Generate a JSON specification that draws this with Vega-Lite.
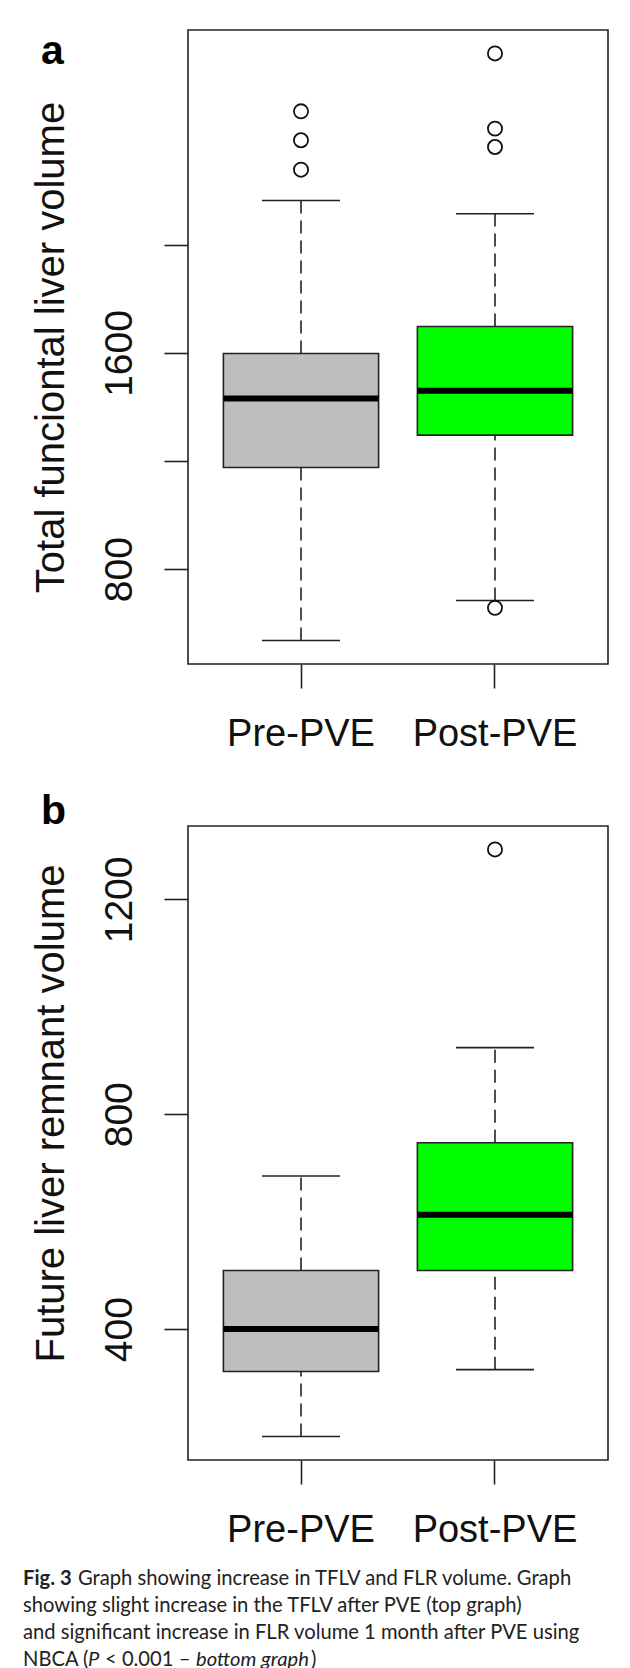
{
  "$schema": "https://vega.github.io/schema/vega-lite/v6.json",
  "background": "white",
  "padding": {"left": 23, "top": 29, "right": 0, "bottom": 0},
  "config": {
    "font": "Liberation Sans",
    "view": {"stroke": "#222", "strokeWidth": 1.6},
    "axis": {"grid": false, "domain": false, "tickSize": 24, "tickWidth": 1.6, "tickColor": "#222", "labelColor": "#111", "titleColor": "#111", "labelFont": "Liberation Sans", "titleFont": "Liberation Sans", "titleFontWeight": "normal"},
    "axisX": {"labelFontSize": 38, "labelAngle": 0, "labelPadding": 27},
    "axisY": {"labelFontSize": 39, "labelAngle": -90, "labelAlign": "center", "labelBaseline": "alphabetic", "labelPadding": 33, "titleFontSize": 40, "titlePadding": 29},
    "title": {"font": "Liberation Sans", "fontSize": 41, "fontWeight": "bold", "anchor": "start", "frame": "bounds", "color": "#000"}
  },
  "datasets": {
    "tflv": [
      {"group": "Pre-PVE", "lo": 536, "q1": 1176, "med": 1431, "q3": 1598, "hi": 2164},
      {"group": "Post-PVE", "lo": 684, "q1": 1296, "med": 1460, "q3": 1698, "hi": 2115}
    ],
    "tflv_out": [
      {"group": "Pre-PVE", "value": 2494},
      {"group": "Pre-PVE", "value": 2387},
      {"group": "Pre-PVE", "value": 2278},
      {"group": "Post-PVE", "value": 2708},
      {"group": "Post-PVE", "value": 2430},
      {"group": "Post-PVE", "value": 2362},
      {"group": "Post-PVE", "value": 657}
    ],
    "flr": [
      {"group": "Pre-PVE", "lo": 200, "q1": 321, "med": 400, "q3": 509, "hi": 685},
      {"group": "Post-PVE", "lo": 324.5, "q1": 509, "med": 613, "q3": 747, "hi": 924}
    ],
    "flr_out": [
      {"group": "Post-PVE", "value": 1293}
    ]
  },
  "concat": [
    {
      "concat": [
        {
          "width": 420,
          "height": 634,
          "title": {"text": "a", "offset": -75, "dx": 10, "baseline": "alphabetic"},
          "encoding": {
            "x": {"field": "group", "type": "nominal", "sort": ["Pre-PVE", "Post-PVE"], "scale": {"type": "band", "paddingInner": 0.2, "paddingOuter": 0.1825}, "axis": {"title": null}}
          },
          "layer": [
            {
              "data": {"name": "tflv"},
              "mark": {"type": "rule", "strokeDash": [13, 7], "strokeWidth": 1.6, "color": "#222"},
              "encoding": {
                "y": {"field": "lo", "type": "quantitative", "scale": {"domain": [449.1, 2794.9], "nice": false, "zero": false},
                      "axis": {"title": "Total funciontal liver volume", "values": [800, 1200, 1600, 2000], "format": "d", "labelExpr": "datum.value == 800 || datum.value == 1600 ? datum.label : ''"}},
                "y2": {"field": "q1"}
              }
            },
            {
              "data": {"name": "tflv"},
              "mark": {"type": "rule", "strokeDash": [13, 7], "strokeWidth": 1.6, "color": "#222"},
              "encoding": {"y": {"field": "q3", "type": "quantitative"}, "y2": {"field": "hi"}}
            },
            {
              "data": {"name": "tflv"},
              "mark": {"type": "bar", "stroke": "#222", "strokeWidth": 1.6, "opacity": 1},
              "encoding": {
                "y": {"field": "q1", "type": "quantitative"}, "y2": {"field": "q3"},
                "color": {"field": "group", "type": "nominal", "scale": {"domain": ["Pre-PVE", "Post-PVE"], "range": ["#bebebe", "#00ff00"]}, "legend": null}
              }
            },
            {
              "data": {"name": "tflv"},
              "mark": {"type": "tick", "thickness": 6, "size": 155, "color": "#000", "opacity": 1},
              "encoding": {"y": {"field": "med", "type": "quantitative"}}
            },
            {
              "data": {"name": "tflv"},
              "mark": {"type": "tick", "thickness": 1.6, "size": 78, "color": "#222", "opacity": 1},
              "encoding": {"y": {"field": "lo", "type": "quantitative"}}
            },
            {
              "data": {"name": "tflv"},
              "mark": {"type": "tick", "thickness": 1.6, "size": 78, "color": "#222", "opacity": 1},
              "encoding": {"y": {"field": "hi", "type": "quantitative"}}
            },
            {
              "data": {"name": "tflv_out"},
              "mark": {"type": "point", "shape": "circle", "filled": false, "size": 200, "strokeWidth": 1.8, "color": "#111", "opacity": 1},
              "encoding": {"y": {"field": "value", "type": "quantitative"}}
            }
          ]
        },
        {
          "width": 420,
          "height": 634,
          "title": {"text": "b", "offset": -39, "dx": 10, "baseline": "alphabetic"},
          "encoding": {
            "x": {"field": "group", "type": "nominal", "sort": ["Pre-PVE", "Post-PVE"], "scale": {"type": "band", "paddingInner": 0.2, "paddingOuter": 0.1825}, "axis": {"title": null}}
          },
          "layer": [
            {
              "data": {"name": "flr"},
              "mark": {"type": "rule", "strokeDash": [13, 7], "strokeWidth": 1.6, "color": "#222"},
              "encoding": {
                "y": {"field": "lo", "type": "quantitative", "scale": {"domain": [156.3, 1336.7], "nice": false, "zero": false},
                      "axis": {"title": "Future liver remnant volume", "values": [400, 800, 1200], "format": "d", "titleY": 287}},
                "y2": {"field": "q1"}
              }
            },
            {
              "data": {"name": "flr"},
              "mark": {"type": "rule", "strokeDash": [13, 7], "strokeWidth": 1.6, "color": "#222"},
              "encoding": {"y": {"field": "q3", "type": "quantitative"}, "y2": {"field": "hi"}}
            },
            {
              "data": {"name": "flr"},
              "mark": {"type": "bar", "stroke": "#222", "strokeWidth": 1.6, "opacity": 1},
              "encoding": {
                "y": {"field": "q1", "type": "quantitative"}, "y2": {"field": "q3"},
                "color": {"field": "group", "type": "nominal", "scale": {"domain": ["Pre-PVE", "Post-PVE"], "range": ["#bebebe", "#00ff00"]}, "legend": null}
              }
            },
            {
              "data": {"name": "flr"},
              "mark": {"type": "tick", "thickness": 6, "size": 155, "color": "#000", "opacity": 1},
              "encoding": {"y": {"field": "med", "type": "quantitative"}}
            },
            {
              "data": {"name": "flr"},
              "mark": {"type": "tick", "thickness": 1.6, "size": 78, "color": "#222", "opacity": 1},
              "encoding": {"y": {"field": "lo", "type": "quantitative"}}
            },
            {
              "data": {"name": "flr"},
              "mark": {"type": "tick", "thickness": 1.6, "size": 78, "color": "#222", "opacity": 1},
              "encoding": {"y": {"field": "hi", "type": "quantitative"}}
            },
            {
              "data": {"name": "flr_out"},
              "mark": {"type": "point", "shape": "circle", "filled": false, "size": 200, "strokeWidth": 1.8, "color": "#111", "opacity": 1},
              "encoding": {"y": {"field": "value", "type": "quantitative"}}
            }
          ]
        }
      ],
      "columns": 1,
      "align": "none",
      "spacing": 36
    },
    {
      "width": 420,
      "height": {"step": 26.9},
      "view": {"stroke": null},
      "encoding": {
        "y": {"field": "line", "type": "ordinal", "axis": null},
        "x": {"value": -165},
        "text": {"field": "text"}
      },
      "layer": [
        {"data": {"values": [{"line": 1, "text": "Fig. 3"}]},
         "mark": {"type": "text", "align": "left", "font": "Lato", "fontSize": 20.2, "fontWeight": "bold", "color": "#222"}},
        {"data": {"values": [{"line": 1, "text": "Graph showing increase in TFLV and FLR volume. Graph"}]},
         "mark": {"type": "text", "align": "left", "font": "Lato", "fontSize": 20.2, "color": "#222", "dx": 55}},
        {"data": {"values": [
          {"line": 2, "text": "showing slight increase in the TFLV after PVE (top graph)"},
          {"line": 3, "text": "and significant increase in FLR volume 1 month after PVE using"},
          {"line": 4, "text": "NBCA ("}]},
         "mark": {"type": "text", "align": "left", "font": "Lato", "fontSize": 20.2, "color": "#222"}},
        {"data": {"values": [{"line": 4, "text": "P"}]},
         "mark": {"type": "text", "align": "left", "font": "Lato", "fontSize": 20.2, "fontStyle": "italic", "color": "#222", "dx": 65}},
        {"data": {"values": [{"line": 4, "text": "< 0.001 –"}]},
         "mark": {"type": "text", "align": "left", "font": "Lato", "fontSize": 20.2, "color": "#222", "dx": 82}},
        {"data": {"values": [{"line": 4, "text": "bottom graph"}]},
         "mark": {"type": "text", "align": "left", "font": "Lato", "fontSize": 20.2, "fontStyle": "italic", "color": "#222", "dx": 173}},
        {"data": {"values": [{"line": 4, "text": ")"}]},
         "mark": {"type": "text", "align": "left", "font": "Lato", "fontSize": 20.2, "color": "#222", "dx": 288}}
      ]
    }
  ],
  "columns": 1,
  "align": "none",
  "spacing": 16
}
